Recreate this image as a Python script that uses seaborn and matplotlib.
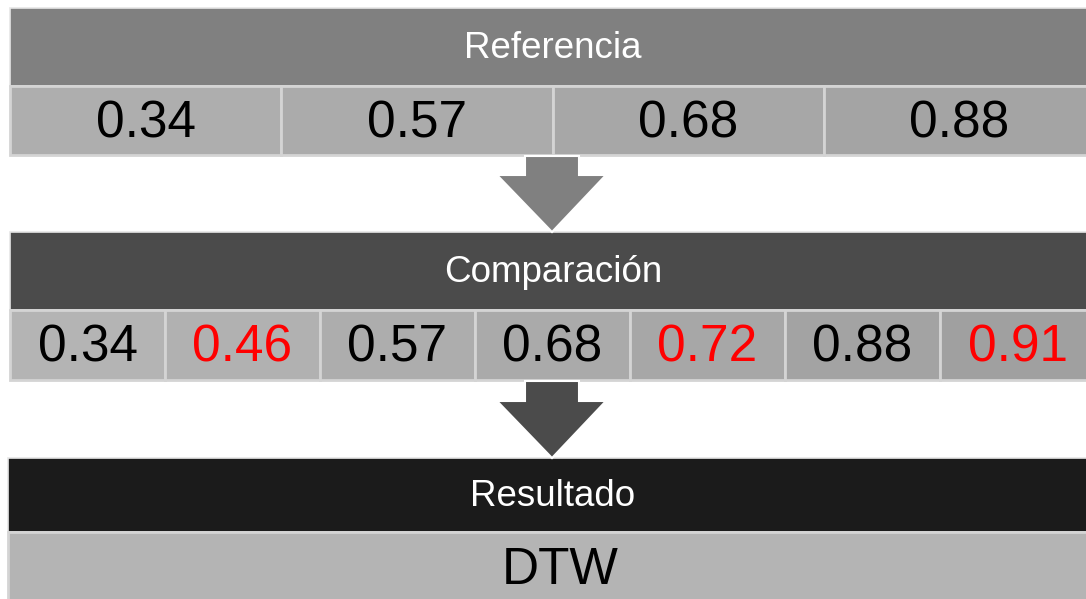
import matplotlib
matplotlib.use("Agg")
import matplotlib.pyplot as plt
import seaborn as sns
from matplotlib.patches import Rectangle, Polygon

# ---- data ----
titles = ["Referencia", "Comparación", "Resultado"]
reference = [0.34, 0.57, 0.68, 0.88]
comparison = [0.34, 0.46, 0.57, 0.68, 0.72, 0.88, 0.91]
result_label = "DTW"

sns.set_theme(style="white")
plt.rcParams['font.family'] = ['Liberation Sans', 'DejaVu Sans']

W, H = 1086, 599
fig = plt.figure(figsize=(W / 100, H / 100), dpi=100)
ax = fig.add_axes([0, 0, 1, 1])
ax.set_xlim(0, W)
ax.set_ylim(H, 0)
ax.axis("off")

x0, x1 = 10, 1095
header_colors = ["#808080", "#4b4b4b", "#1b1b1b"]
rows = [(8, 86, 155), (232, 310, 380), (458, 532, 602)]  # header top, cell top, cell bottom
shades = [(174, 164), (180, 160)]
border = "#d4d4d4"
HFS = 26.5


def cell_color(i, n, c0, c1):
    v = c0 + (c1 - c0) * (i / max(n - 1, 1))
    return (v / 255, v / 255, v / 255)


def draw_row(k, values, flags):
    ht, ct, cb = rows[k]
    ax.add_patch(Rectangle((x0, ht), x1 - x0, ct - ht, facecolor=header_colors[k],
                           edgecolor="#e6e6e6", lw=1.2))
    ax.text(553, (ht + ct) / 2 + 1, titles[k], color="white", fontsize=HFS,
            ha="center", va="center")
    n = len(values)
    w = (x1 - x0) / n
    c0, c1 = shades[k]
    for i, v in enumerate(values):
        xs = x0 + i * w
        ax.add_patch(Rectangle((xs, ct), w, cb - ct, facecolor=cell_color(i, n, c0, c1),
                               edgecolor=border, lw=2))
        ax.text(xs + w / 2, (ct + cb) / 2 + 3, f"{v:.2f}",
                color="#ff0000" if flags[i] else "black", fontsize=37,
                ha="center", va="center")


draw_row(0, reference, [False] * len(reference))
draw_row(1, comparison, [v not in reference for v in comparison])

# result row
ht, ct, cb = rows[2]
ax.add_patch(Rectangle((8, ht), x1 - 8, ct - ht, facecolor=header_colors[2],
                       edgecolor="#e6e6e6", lw=1.2))
ax.text(553, (ht + ct) / 2 + 1, titles[2], color="white", fontsize=HFS,
        ha="center", va="center")
ax.add_patch(Rectangle((8, ct), x1 - 8, cb - ct, facecolor="#b4b4b4",
                       edgecolor=border, lw=2))
ax.text(560, 570, result_label, color="black", fontsize=37, ha="center", va="center")


def arrow(top, shaft_bot, tip, color):
    pts = [(525, top), (579, top), (579, shaft_bot), (606, shaft_bot), (552, tip),
           (497, shaft_bot), (525, shaft_bot)]
    ax.add_patch(Polygon(pts, closed=True, facecolor=color, edgecolor="white", lw=1.5,
                         zorder=5))


arrow(156, 175, 232, "#808080")
arrow(381, 401, 458, "#4b4b4b")

fig.savefig("out.png", dpi=100)
